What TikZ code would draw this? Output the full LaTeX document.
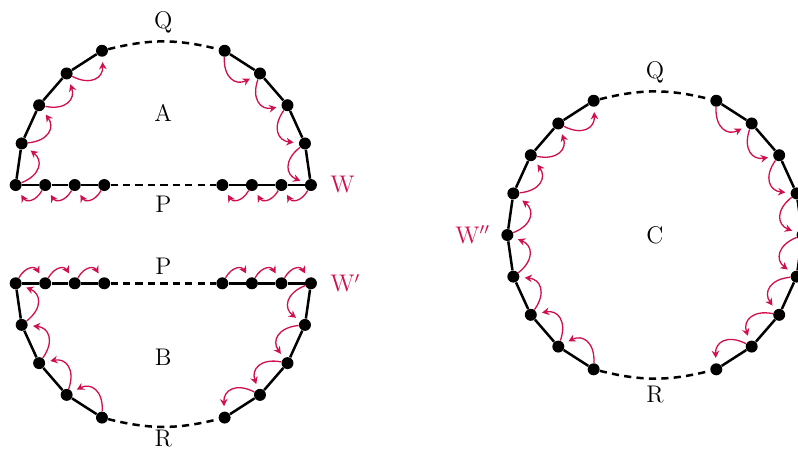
\documentclass[tikz,border=0pt]{standalone}
\usepackage{tikz}
\usetikzlibrary{arrows.meta,calc,positioning}
\definecolor{walkred}{RGB}{208,16,76}
\tikzset{
    walk dot/.style={circle, fill=black, inner sep=0pt, minimum size=2.1mm},
    walk edge/.style={line width=1.25pt},
    walk gap/.style={line width=1.25pt, dash pattern=on 3.6pt off 2.6pt},
    walk step/.style={-{Stealth[length=3.6pt,width=3.8pt]}, walkred, line width=0.65pt, shorten >=2.5pt, looseness=1.5},
    walk name/.style={font=\large},
    walk tag/.style={text=walkred, font=\large}
}

\begin{document}
\begin{tikzpicture}[x=1cm,y=1cm]
    \useasboundingbox (0,0) rectangle (14,-7.895);
    \def\rad{2.59}
    \coordinate (ca) at (2.865,-3.246);
    \coordinate (cb) at (2.865,-4.970);
    \coordinate (cc) at (11.491,-4.123);

    % A: upper half
    \foreach \k in {0,...,4} {
        \node[walk dot] (al\k) at ($(ca)+({180-\k*180/11}:\rad)$) {};
        \node[walk dot] (ar\k) at ($(ca)+({\k*180/11}:\rad)$) {};
    }
    \foreach \k in {1,2,3} {
        \node[walk dot] (ax\k) at ($(ca)+({-\rad+0.2*\k*\rad},0)$) {};
        \node[walk dot] (ay\k) at ($(ca)+({\rad-0.2*\k*\rad},0)$) {};
    }
    \draw[walk edge] (al0) -- (al1) -- (al2) -- (al3) -- (al4);
    \draw[walk edge] (ar0) -- (ar1) -- (ar2) -- (ar3) -- (ar4);
    \draw[walk edge] (al0) -- (ax1) -- (ax2) -- (ax3);
    \draw[walk edge] (ar0) -- (ay1) -- (ay2) -- (ay3);
    \draw[walk gap] (al4) to[bend left=14] node[walk name, above=0pt] (qa) {Q} (ar4);
    \draw[walk gap] (ax3) -- node[walk name, below=1.5pt] (pa) {P} (ay3);
    \node[walk name] (la) at ($(ca)+(0,1.27)$) {A};
    \node[walk tag, right=3pt of ar0] (wa) {W};

    \foreach \i/\j in {0/1,1/2,2/3,3/4} {
        \draw[walk step] (al\i) to[bend right=60] (al\j);
        \draw[walk step] (ar\j) to[bend right=60] (ar\i);
    }
    \foreach \i/\j in {ar0/ay1,ay1/ay2,ay2/ay3,ax3/ax2,ax2/ax1,ax1/al0}
        \draw[walk step] (\i) to[bend left=60] (\j);

    % B: lower half
    \foreach \k in {0,...,4} {
        \node[walk dot] (bl\k) at ($(cb)+({180+\k*180/11}:\rad)$) {};
        \node[walk dot] (br\k) at ($(cb)+({-\k*180/11}:\rad)$) {};
    }
    \foreach \k in {1,2,3} {
        \node[walk dot] (bx\k) at ($(cb)+({-\rad+0.2*\k*\rad},0)$) {};
        \node[walk dot] (by\k) at ($(cb)+({\rad-0.2*\k*\rad},0)$) {};
    }
    \draw[walk edge] (bl0) -- (bl1) -- (bl2) -- (bl3) -- (bl4);
    \draw[walk edge] (br0) -- (br1) -- (br2) -- (br3) -- (br4);
    \draw[walk edge] (bl0) -- (bx1) -- (bx2) -- (bx3);
    \draw[walk edge] (br0) -- (by1) -- (by2) -- (by3);
    \draw[walk gap] (bx3) -- node[walk name, above=0.5pt] (pb) {P} (by3);
    \draw[walk gap] (bl4) to[bend right=14] node[walk name, below=-2.5pt] (rb) {R} (br4);
    \node[walk name] (lb) at ($(cb)+(0,-1.29)$) {B};
    \node[walk tag, right=3pt of br0] (wb) {W$'$};

    \foreach \i/\j in {0/1,1/2,2/3,3/4} {
        \draw[walk step] (bl\j) to[bend right=60] (bl\i);
        \draw[walk step] (br\i) to[bend right=60] (br\j);
    }
    \foreach \i/\j in {bl0/bx1,bx1/bx2,bx2/bx3,by3/by2,by2/by1,by1/br0}
        \draw[walk step] (\i) to[bend left=60] (\j);

    % C: whole disc
    \foreach \k in {0,...,8} {
        \node[walk dot] (cl\k) at ($(cc)+({(7+\k)*180/11}:\rad)$) {};
        \node[walk dot] (cr\k) at ($(cc)+({(4-\k)*180/11}:\rad)$) {};
    }
    \draw[walk edge] (cl0) -- (cl1) -- (cl2) -- (cl3) -- (cl4) -- (cl5) -- (cl6) -- (cl7) -- (cl8);
    \draw[walk edge] (cr0) -- (cr1) -- (cr2) -- (cr3) -- (cr4) -- (cr5) -- (cr6) -- (cr7) -- (cr8);
    \draw[walk gap] (cl0) to[bend left=14] node[walk name, above=0pt] (qc) {Q} (cr0);
    \draw[walk gap] (cl8) to[bend right=14] node[walk name, below=0pt] (rc) {R} (cr8);
    \node[walk name] (lc) at (cc) {C};
    \node[walk tag, left=2pt of cl4] (wc) {W$''$};

    \foreach \i/\j in {0/1,1/2,2/3,3/4,4/5,5/6,6/7,7/8} {
        \draw[walk step] (cl\j) to[bend right=60] (cl\i);
        \draw[walk step] (cr\i) to[bend right=60] (cr\j);
    }
\end{tikzpicture}
\end{document}
